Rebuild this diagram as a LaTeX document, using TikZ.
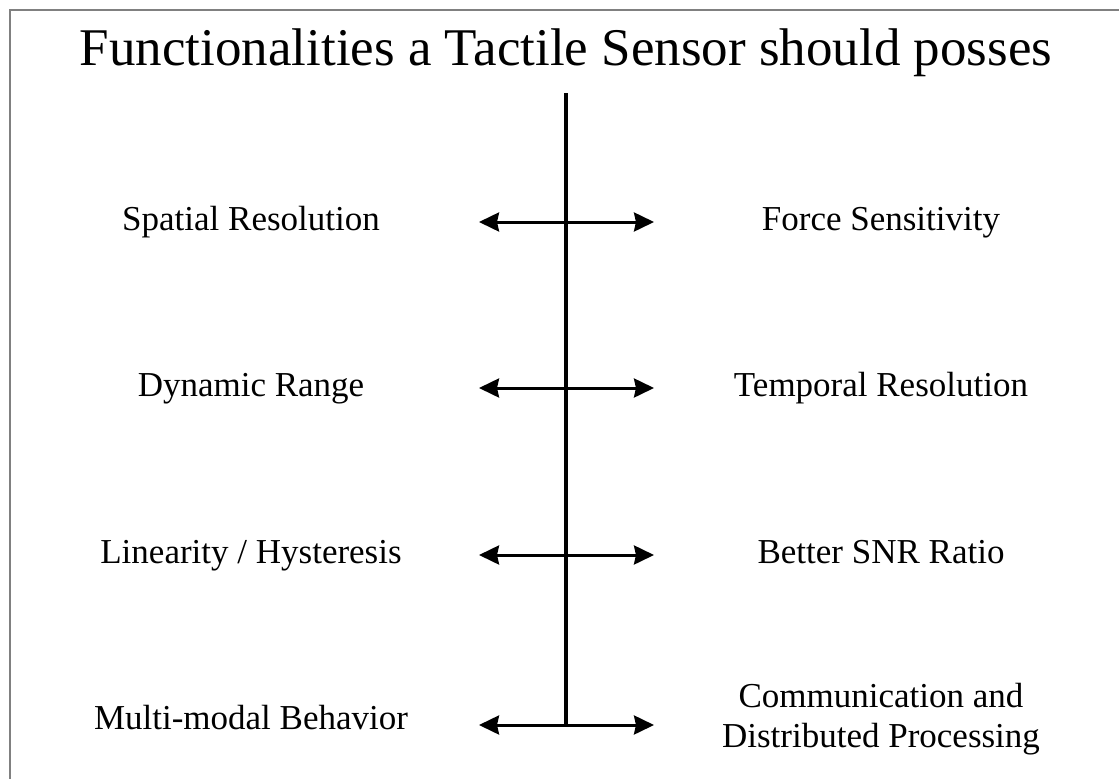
\documentclass[tikz,border=0pt]{standalone}
\usepackage{fontspec}
\setmainfont{Liberation Serif}
\usetikzlibrary{positioning, arrows.meta}

\begin{document}
\begin{tikzpicture}[x=1pt, y=-1pt,
  item/.style={font=\fontsize{35}{40}\selectfont, align=center, inner sep=0pt, anchor=base},
  arrow/.style={{Stealth[length=20pt, width=19pt, inset=2pt]}-{Stealth[length=20pt, width=19pt, inset=2pt]}, line width=3pt},
  axis/.style={line width=3.5pt}
]
\useasboundingbox (0,0) rectangle (1119,779);

% Frame (top and left edge)
\draw[gray, line width=1.5pt] (10,779) -- (10,10) -- (1119,10);

% Title
\node[font=\fontsize{53}{60}\selectfont, inner sep=0pt, anchor=base] (title) at (566, 65)
  {Functionalities a Tactile Sensor should posses};

% Central axis
\coordinate (top) at (566, 93);
\coordinate (bot) at (566, 725);
\draw[axis] (top) -- (bot);

% Left items
\node[item] (spatial) at (251, 230) {Spatial Resolution};
\node[item] (dynamic) at (251, 396) {Dynamic Range};
\node[item] (linear) at (251, 563) {Linearity / Hysteresis};
\node[item] (multi) at (251, 729) {Multi-modal Behavior};

% Right items
\node[item] (force) at (881, 230) {Force Sensitivity};
\node[item] (temporal) at (881, 396) {Temporal Resolution};
\node[item] (snr) at (881, 563) {Better SNR Ratio};
\node[item] (comm) at (881, 747) {Communication and\\Distributed Processing};

% Arrows
\foreach \y [count=\i] in {222, 388, 555, 725} {
  \coordinate (l\i) at (479, \y);
  \coordinate (r\i) at (654, \y);
  \draw[arrow] (l\i) -- (r\i);
}

\end{tikzpicture}
\end{document}
